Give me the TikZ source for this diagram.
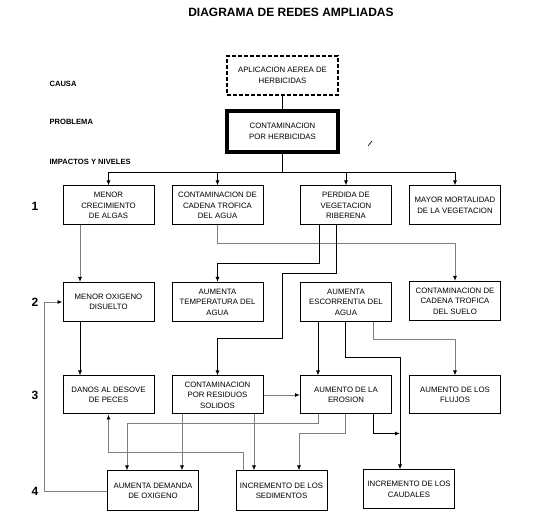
\documentclass[tikz,border=0pt]{standalone}
\usepackage{fontspec}
\setmainfont{Liberation Sans}
\usetikzlibrary{arrows.meta}
\begin{document}
\begin{tikzpicture}[x=1pt,y=-1pt,
    box/.style={draw,line width=1pt,minimum width=91pt,minimum height=39pt,inner sep=1pt,
      align=center,font=\fontsize{7.8}{10.5}\selectfont},
    lev/.style={font=\bfseries\fontsize{12}{12}\selectfont},
    tag/.style={anchor=west,font=\bfseries\fontsize{7.6}{8}\selectfont},
    gl/.style={draw=black!50,line width=0.9pt},
    bl/.style={draw=black,line width=0.9pt},
    >={Latex[length=5pt,width=4pt,color=black]}]
    \useasboundingbox (0,0) rectangle (542,521);
    % titulo y rotulos
    \node[font=\bfseries\fontsize{12}{12}\selectfont] (title) at (291,12) {DIAGRAMA DE REDES AMPLIADAS};
    \node[tag] (causa) at (46,84) {CAUSA};
    \node[tag] (probl) at (46,122) {PROBLEMA};
    \node[tag] (impac) at (46,162) {IMPACTOS Y NIVELES};
    \node[lev] (n1) at (35,206) {1};
    \node[lev] (n2) at (35,302) {2};
    \node[lev] (n3) at (35,395) {3};
    \node[lev] (n4) at (35,491) {4};
    % causa y problema
    \node[box,minimum width=111pt,line width=2.2pt,dash pattern=on 4pt off 2pt] (cause) at (282.5,75.5) {APLICACION AEREA DE\\HERBICIDAS};
    \node[box,minimum width=111pt,minimum height=41pt,line width=3.5pt] (prob) at (282.5,131.5) {CONTAMINACION\\POR HERBICIDAS};
    \draw[line width=0.6pt] (368,146) -- (372,141);
    % nivel 1
    \node[box] (algas) at (108.5,205.5) {MENOR\\CRECIMIENTO\\DE ALGAS};
    \node[box] (agua) at (217.5,205.5) {CONTAMINACION DE\\CADENA TROFICA\\DEL AGUA};
    \node[box] (veg) at (346,205.5) {PERDIDA DE\\VEGETACION\\RIBERENA};
    \node[box] (mort) at (455,205.5) {MAYOR MORTALIDAD\\DE LA VEGETACION};
    % nivel 2
    \node[box] (oxi) at (108.5,302) {MENOR OXIGENO\\DISUELTO};
    \node[box] (temp) at (217.5,302) {AUMENTA\\TEMPERATURA DEL\\AGUA};
    \node[box] (esc) at (346,302) {AUMENTA\\ESCORRENTIA DEL\\AGUA};
    \node[box] (suelo) at (455,301) {CONTAMINACION DE\\CADENA TROFICA\\DEL SUELO};
    % nivel 3
    \node[box,minimum height=38pt] (desove) at (108.5,395) {DANOS AL DESOVE\\DE PECES};
    \node[box,minimum height=38pt] (resid) at (217.5,395) {CONTAMINACION\\POR RESIDUOS\\SOLIDOS};
    \node[box,minimum height=38pt] (ero) at (346,395) {AUMENTO DE LA\\EROSION};
    \node[box,minimum height=38pt] (flujos) at (455,395) {AUMENTO DE LOS\\FLUJOS};
    % nivel 4
    \node[box,minimum height=40pt] (dem) at (153,491) {AUMENTA DEMANDA\\DE OXIGENO};
    \node[box,minimum height=40pt] (sed) at (281.5,491) {INCREMENTO DE LOS\\SEDIMENTOS};
    \node[box,minimum height=39pt] (caud) at (409,489.5) {INCREMENTO DE LOS\\CAUDALES};
    % conectores
    \draw[bl] (cause.south) -- (prob.north);
    \draw[bl] (prob.south) -- ++(0,19);
    \foreach \n in {algas,agua,veg,mort}
        \draw[bl,->] (prob.south) ++(0,19) -| (\n.north);
    \draw[gl,->] ([xshift=-28.5pt]algas.south) -- ([xshift=-28.5pt]oxi.north);
    \draw[gl,->] (agua.south) -- ++(0,18) -| (suelo.north);
    \draw[bl,->] ([xshift=-27pt]veg.south) -- ++(0,38) -| (temp.north);
    \draw[bl,->] ([xshift=-10pt]veg.south) |- ++(-54,48) -- ++(0,65) -| (resid.north);
    \draw[bl,->] ([xshift=-28.5pt]oxi.south) -- ([xshift=-28.5pt]desove.north);
    \draw[bl,->] ([xshift=-28pt]esc.south) -- ([xshift=-28pt]ero.north);
    \draw[bl,->] ([xshift=-1pt]esc.south) -- ++(0,35) -| ([xshift=-9pt]caud.north);
    \draw[gl,->] ([xshift=27pt]esc.south) -- ++(0,17) -| (flujos.north);
    \draw[gl,->] (resid.east) -- (resid.east -| ero.west);
    \draw[gl,->] ([xshift=-28pt]ero.south) -- ++(0,9) -| ([xshift=-26pt]dem.north);
    \draw[gl,->] ([xshift=-35.5pt]resid.south) -- ([xshift=-35.5pt]resid.south |- dem.north);
    \draw[gl,->] ([xshift=36.5pt]resid.south) -- ([xshift=36.5pt]resid.south |- sed.north);
    \draw[gl,->] ([xshift=-1pt]ero.south) -- ++(0,19) -| ([xshift=17.5pt]sed.north);
    \draw[bl,->] ([xshift=27pt]ero.south) -- ++(0,19) -- ++(27,0);
    \draw[gl,->] ([xshift=-38.5pt]sed.north) -- ++(0,-18) -| (desove.south);
    \draw[gl,->] (dem.west) -- ++(-63,0) |- (oxi.west);
\end{tikzpicture}
\end{document}
